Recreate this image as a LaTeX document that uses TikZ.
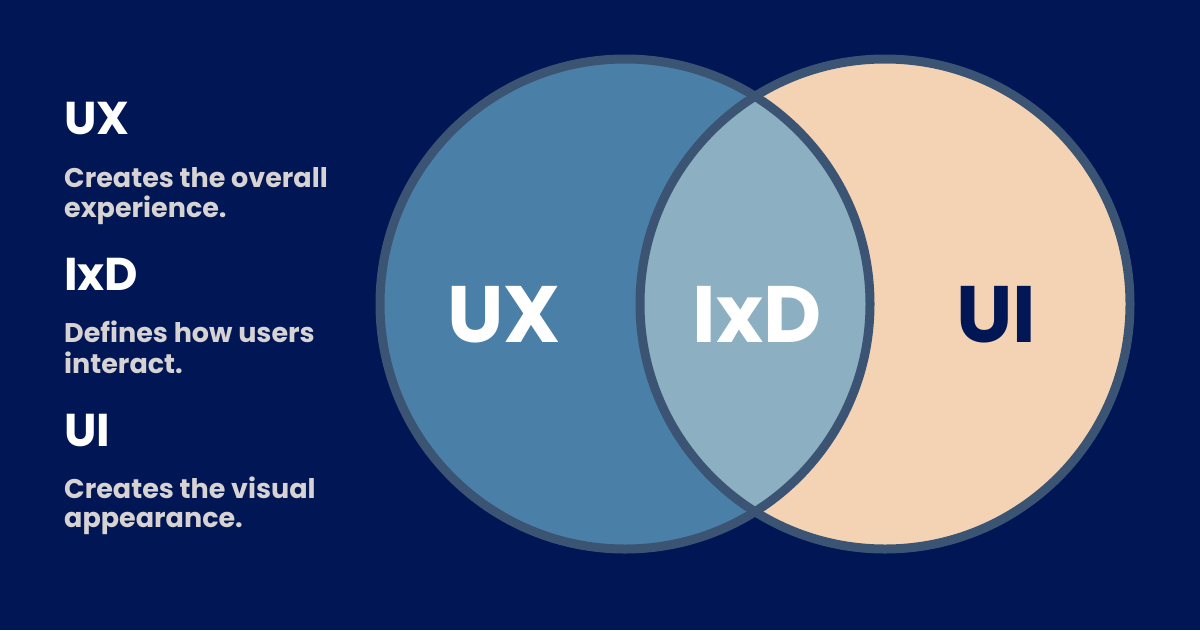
\documentclass[tikz,border=0pt]{standalone}
\usepackage{fontspec}
\setmainfont{Poppins}
\definecolor{bg}{HTML}{001655}
\definecolor{uxfill}{HTML}{4A80A8}
\definecolor{ixdfill}{HTML}{8CAFC2}
\definecolor{uifill}{HTML}{F4D3B5}
\definecolor{ring}{HTML}{3C5474}
\definecolor{bodytext}{HTML}{D8D3D3}
\tikzset{
  heading/.style={anchor=base west, inner sep=0pt, text=white, font=\bfseries\fontsize{46}{46}\selectfont},
  bodytxt/.style={anchor=base west, inner sep=0pt, text=bodytext, font=\bfseries\fontsize{27}{30}\selectfont},
  biglabel/.style={anchor=base, inner sep=0pt, font=\bfseries\fontsize{80}{80}\selectfont},
  ringline/.style={draw=ring, line width=9pt}
}
\begin{document}
\begin{tikzpicture}[x=1pt,y=-1pt]
\fill[bg] (0,0) rectangle (1200,630);
\useasboundingbox (0,0) rectangle (1200,630);
\coordinate (cl) at (625,304);
\coordinate (cr) at (885,304);
\fill[uxfill] (cl) circle[radius=245];
\fill[uifill] (cr) circle[radius=245];
\begin{scope}
  \clip (cl) circle[radius=245];
  \fill[ixdfill] (cr) circle[radius=245];
\end{scope}
\draw[ringline] (cl) circle[radius=245];
\draw[ringline] (cr) circle[radius=245];
\node[biglabel, text=white] (lux) at (504,342) {UX};
\node[biglabel, text=white] (lixd) at (757,342) {IxD};
\node[biglabel, text=bg] (lui) at (996,342) {UI};
\node[heading] (hux) at (64,134) {UX};
\node[bodytxt] (bux1) at (64,187) {Creates the overall};
\node[bodytxt] (bux2) at (64,217) {experience.};
\node[heading] (hixd) at (64,290) {IxD};
\node[bodytxt] (bixd1) at (64,342) {Defines how users};
\node[bodytxt] (bixd2) at (64,373) {interact.};
\node[heading] (hui) at (64,446) {UI};
\node[bodytxt] (bui1) at (64,498) {Creates the visual};
\node[bodytxt] (bui2) at (64,527) {appearance.};
\end{tikzpicture}
\end{document}
